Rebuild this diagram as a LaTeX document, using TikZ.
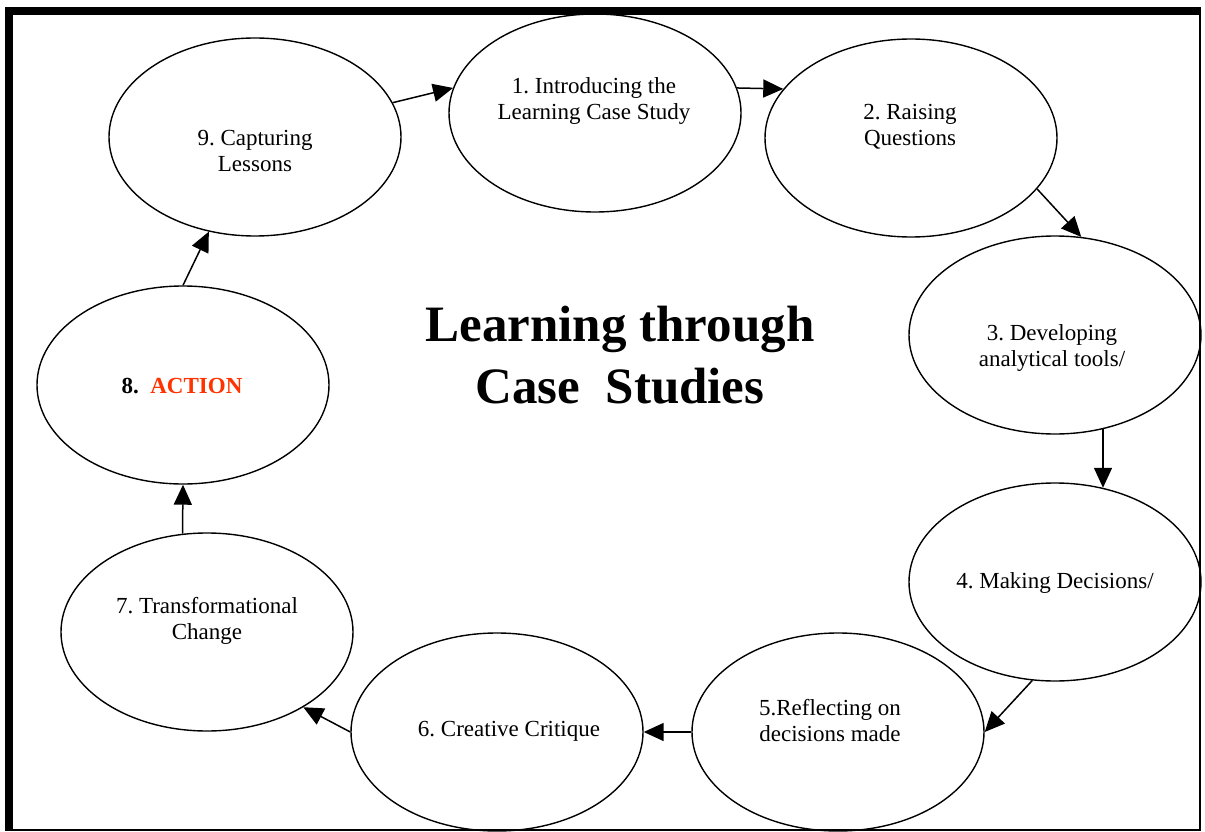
\documentclass[tikz,border=0pt]{standalone}
\usepackage{fontspec}
\setmainfont{Liberation Serif}
\usetikzlibrary{shapes.geometric,arrows.meta}
\definecolor{actionred}{RGB}{255,51,0}
\frenchspacing

\begin{document}
\begin{tikzpicture}[x=1pt, y=-1pt]

        \pgfmathsetmacro{\ewidth}{292}
        \pgfmathsetmacro{\eheight}{198}

        % One look for the nine stages of the cycle,
        % one for their texts and one for the arrows between them
        \tikzset{
            stage/.style={ellipse, draw, line width=1.4pt,
                minimum width=\ewidth pt, minimum height=\eheight pt,
                inner sep=0pt},
            stagetext/.style={align=center,
                font=\fontsize{23}{26}\selectfont},
            flow/.style={line width=1.5pt,
                -{Triangle[length=20pt, width=18pt]}}
        }

        \useasboundingbox (0, 0) rectangle (1205, 832);

        % Frame: thick on the left and on top, thin elsewhere
        \begin{scope}
            \fill (5, 7) rectangle (1201, 15);
            \fill (5, 7) rectangle (13, 831);
            \draw[line width=2.5pt] (1200, 7) -- (1200, 830) -- (5, 830);
        \end{scope}

        % The stages, going round clockwise from the top
        \node[stage] (e1) at (595, 113) {};
        \node[stage] (e2) at (911, 138) {};
        \node[stage] (e3) at (1055, 335) {};
        \node[stage] (e4) at (1055, 582) {};
        \node[stage] (e5) at (838, 732) {};
        \node[stage] (e6) at (497, 732) {};
        \node[stage] (e7) at (207, 632) {};
        \node[stage] (e8) at (183, 385) {};
        \node[stage] (e9) at (255, 137) {};

        \node[stagetext] (t1) at (594, 101) {1. Introducing the\\Learning Case Study};
        \node[stagetext] (t2) at (910, 127) {2. Raising\\Questions};
        \node[stagetext] (t3) at (1052, 348) {3. Developing\\analytical tools/};
        \node[stagetext] (t4) at (1055, 583) {4. Making Decisions/};
        \node[stagetext] (t5) at (830, 721) {5.Reflecting on\\decisions made};
        \node[stagetext] (t6) at (509, 731) {6. Creative Critique};
        \node[stagetext] (t7) at (207, 621) {7. Transformational\\Change};
        \node[stagetext, font=\fontsize{23}{26}\selectfont\bfseries] (t8) at (182, 386)
            {8.\ \ \textcolor{actionred}{ACTION}};
        \node[stagetext] (t9) at (255, 151) {9. Capturing\\Lessons};

        % Title in the middle of the cycle
        \node[align=center, font=\fontsize{51}{62}\selectfont\bfseries] (title)
            at (620, 355) {Learning through\\Case\ \ Studies};

        % Arrows, each one leaves and reaches the border of an ellipse
        \begin{scope}
            \draw[flow] (e9.14) -- (e1.170);
            \draw[flow] (e1.10) -- (e2.159);
            \draw[flow] (e2.-22) -- (e3.75);
            \draw[flow] (e3.-63) -- (e4.63);
            \draw[flow] (e4.-103) -- (e5.0);
            \draw[flow] (e5.180) -- (e6.0);
            \draw[flow] (e6.180) -- (e7.-38);
            \draw[flow] (e7.104) -- (e8.south);
            \draw[flow] (e8.north) -- (e9.-116);
        \end{scope}

\end{tikzpicture}
\end{document}
